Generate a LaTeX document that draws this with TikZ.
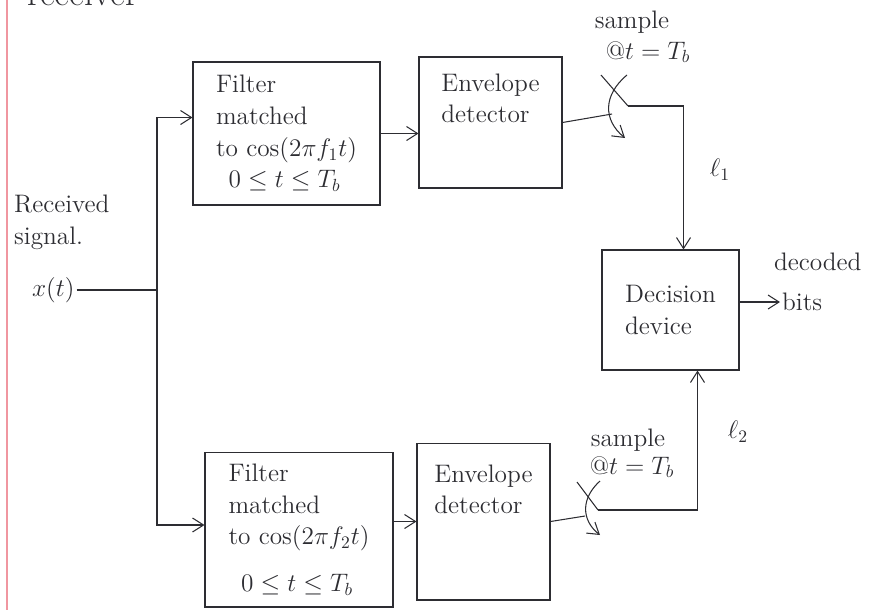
\documentclass[tikz,border=0pt]{standalone}
\usepackage{amsmath}
\usepackage{amssymb}
\usetikzlibrary{arrows.meta, positioning, calc}
\definecolor{inkgray}{RGB}{45,45,50}
\definecolor{marginred}{RGB}{240,150,160}
\tikzset{
    blk/.style={rectangle, draw=inkgray, semithick, align=left,
                inner sep=6pt, font=\Large, text=inkgray},
    arrow/.style={-{Straight Barb[length=2.2mm, width=2.8mm]}, semithick, draw=inkgray},
    wire/.style={semithick, draw=inkgray},
    lbl/.style={font=\Large, text=inkgray, inner sep=1pt},
}

\begin{document}
\begin{tikzpicture}[x=0.02cm, y=-0.02cm]
    \useasboundingbox (0,0) rectangle (885,610);
    \draw[marginred, line width=1.2pt] (7,0) -- (7,610);
    \node[lbl, anchor=base west, font=\huge] (rcvr) at (25,5) {receiver};

    \node[blk, minimum width=3.74cm, minimum height=2.86cm] (f1) at (286.5,133.5)
        {Filter\\matched\\to $\cos(2\pi f_1t)$\\\hspace{0.5em}$0\le t\le T_b$};
    \node[blk, minimum width=2.86cm, minimum height=2.62cm] (e1) at (490.5,122.5) {};
    \node[lbl, align=left, anchor=north] (e1txt) at ([yshift=-0.3cm]e1.north)
        {Envelope\\detector};
    \node[blk, minimum width=2.74cm, minimum height=2.4cm] (dec) at (670.5,310)
        {Decision\\device};
    \node[blk, minimum width=3.76cm, minimum height=3.1cm] (f2) at (299,529.5)
        {Filter\\matched\\to $\cos(2\pi f_2t)$\\[0.3cm]\hspace{0.5em}$0\le t\le T_b$};
    \node[blk, minimum width=2.66cm, minimum height=3.14cm] (e2) at (483.5,521.5) {};
    \node[lbl, align=left, anchor=north] (e2txt) at ([yshift=-0.4cm]e2.north)
        {Envelope\\detector};

    \node[lbl, align=left, anchor=west] (rx) at (12,222) {Received\\signal.};
    \node[lbl, anchor=west] (xin) at (30,290) {$x(t)$};
    \coordinate (junc) at (157,290);
    \draw[wire] (xin) -- (junc);
    \draw[arrow] (junc) |- ([yshift=0.32cm]f1.west);
    \draw[arrow] (junc) |- ([yshift=0.09cm]f2.west);
    \draw[arrow] (f1.east) -- (f1.east -| e1.west);
    \draw[arrow] (e2.west -| f2.east) -- (e2.west);

    \coordinate (sw1in) at (612,114);
    \coordinate (sw1top) at (601,75);
    \coordinate (sw1out) at (628,106);
    \coordinate (sw1a) at (627,75);
    \coordinate (sw1b) at (625,138);
    \draw[wire] (e1.east) -- (sw1in);
    \draw[wire] (sw1top) -- (sw1out);
    \draw[arrow] (sw1out) -| ([xshift=0.26cm]dec.north);
    \draw[arrow] (sw1a) .. controls (603,95) and (603,120) .. (sw1b);
    \node[lbl] (s1) at (632,22) {sample};
    \node[lbl] (at1) at (648,52) {@$t=T_b$};
    \node[lbl] (l1) at (720,170) {$\ell_1$};

    \coordinate (sw2in) at (585,516);
    \coordinate (sw2top) at (577,482);
    \coordinate (sw2out) at (598,510);
    \coordinate (sw2a) at (600,481);
    \coordinate (sw2b) at (600,535);
    \draw[wire] (e2.east) -- (sw2in);
    \draw[wire] (sw2top) -- (sw2out);
    \draw[arrow] (sw2out) -| ([xshift=0.54cm]dec.south);
    \draw[arrow] (sw2a) .. controls (581,498) and (581,520) .. (sw2b);
    \node[lbl] (s2) at (628,440) {sample};
    \node[lbl] (at2) at (632,467) {@$t=T_b$};
    \node[lbl] (l2) at (738,432) {$\ell_2$};

    \node[lbl, anchor=west] (dcd) at (772,262) {decoded};
    \node[lbl, anchor=west] (bits) at (780,302) {bits};
    \draw[arrow] (dec.east |- bits.west) -- (bits.west);
\end{tikzpicture}
\end{document}
